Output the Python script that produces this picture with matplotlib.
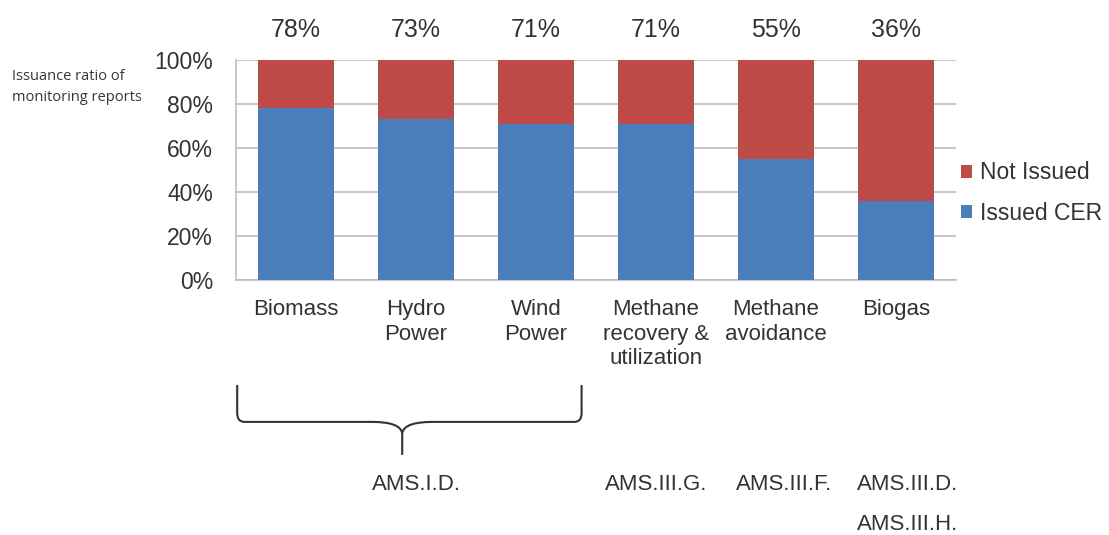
import matplotlib
matplotlib.use("Agg")
import matplotlib.pyplot as plt
from matplotlib.path import Path
from matplotlib.patches import PathPatch
import matplotlib.transforms as mtransforms

categories = ["Biomass", "Hydro\nPower", "Wind\nPower", "Methane\nrecovery &\nutilization",
              "Methane\navoidance", "Biogas"]
issued = [78, 73, 71, 71, 55, 36]
not_issued = [100 - v for v in issued]
pct_labels = ["78%", "73%", "71%", "71%", "55%", "36%"]
yticks = [0, 20, 40, 60, 80, 100]
ytick_labels = ["0%", "20%", "40%", "60%", "80%", "100%"]
method_labels = ["AMS.I.D.", "AMS.III.G.", "AMS.III.F.", "AMS.III.D."]
method_x = [1.0, 3.0, 4.07, 5.1]
method_labels_row2 = ["AMS.III.H."]
method_x_row2 = [5.1]

plt.rcParams['font.family'] = ['Liberation Sans', 'DejaVu Sans']
TXT = "#333333"
BLUE = "#4A7EBB"
RED = "#BE4B48"

fig = plt.figure(figsize=(11.09, 5.35), dpi=100)
ax = fig.add_axes([236/1109, 1-280/535, 720/1109, 220/535])

x = list(range(len(categories)))
w = 0.633
ax.bar(x, issued, width=w, color=BLUE, label="Issued CER", zorder=3)
ax.bar(x, not_issued, width=w, bottom=issued, color=RED, label="Not Issued", zorder=3)

ax.set_xlim(-0.5, len(categories) - 0.5)
ax.set_ylim(0, 100)
ax.set_yticks(yticks)
ax.set_yticklabels(ytick_labels, fontsize=16.5, color=TXT)
ax.tick_params(axis='y', length=0, pad=16.5)
ax.set_xticks(x)
ax.set_xticklabels(categories, fontsize=16, color=TXT, linespacing=1.2, va='top')
ax.tick_params(axis='x', length=0, pad=14)
ax.grid(axis='y', color='#BDBDBD', lw=1.2, zorder=0)
for s in ['top', 'right']:
    ax.spines[s].set_visible(False)
for s in ['left', 'bottom']:
    ax.spines[s].set_color('#BDBDBD')
    ax.spines[s].set_linewidth(1.2)

# percentage labels above bars
for xi, lab in zip(x, pct_labels):
    ax.text(xi, 1.135, lab, transform=ax.get_xaxis_transform(), ha='center', va='center',
            fontsize=18, color=TXT)

# y label
fig.text(12/1109, 1-87/535, "Issuance ratio of\nmonitoring reports", ha='left', va='center',
         fontsize=10.5, color='#3a3530', family=['Open Sans', 'DejaVu Sans'], linespacing=1.5)

# legend
handles, labels = ax.get_legend_handles_labels()
leg = fig.legend(handles[::-1], labels[::-1], loc='center left',
                 bbox_to_anchor=(961/1109, 1-193/535), frameon=False, fontsize=16.5,
                 borderpad=0, borderaxespad=0,
                 handlelength=0.5, handleheight=0.5, handletextpad=0.35, labelspacing=0.75)
for t in leg.get_texts():
    t.set_color(TXT)

# curly brace grouping first three categories
tr = mtransforms.blended_transform_factory(ax.transData, ax.transAxes)
x0, x1 = -0.49, 2.38
xm = (x0 + x1) / 2 - 0.06
yt, yh, yb = -0.477, -0.645, -0.795
r = 0.06
verts = [(x0, yt), (x0, yh + 0.04), (x0, yh), (x0 + r, yh),
         (xm - 0.25, yh), (xm - 0.02, yh), (xm, yh - 0.05), (xm, yb)]
codes = [Path.MOVETO, Path.LINETO, Path.CURVE3, Path.CURVE3,
         Path.LINETO, Path.CURVE3, Path.CURVE3, Path.LINETO]
ax.add_patch(PathPatch(Path(verts, codes), transform=tr, fill=False, lw=1.5,
                       edgecolor='#333333', clip_on=False))
verts2 = [(x1, yt), (x1, yh + 0.04), (x1, yh), (x1 - r, yh),
          (xm + 0.25, yh), (xm + 0.02, yh), (xm, yh - 0.05)]
codes2 = [Path.MOVETO, Path.LINETO, Path.CURVE3, Path.CURVE3,
          Path.LINETO, Path.CURVE3, Path.CURVE3]
ax.add_patch(PathPatch(Path(verts2, codes2), transform=tr, fill=False, lw=1.5,
                       edgecolor='#333333', clip_on=False))

# methodology labels
for mx, ml in zip(method_x, method_labels):
    ax.text(mx, -0.93, ml, transform=tr, ha='center', va='center', fontsize=16,
            color=TXT)
for mx, ml in zip(method_x_row2, method_labels_row2):
    ax.text(mx, -1.11, ml, transform=tr, ha='center', va='center', fontsize=16,
            color=TXT)

fig.savefig("out.png", dpi=100)
